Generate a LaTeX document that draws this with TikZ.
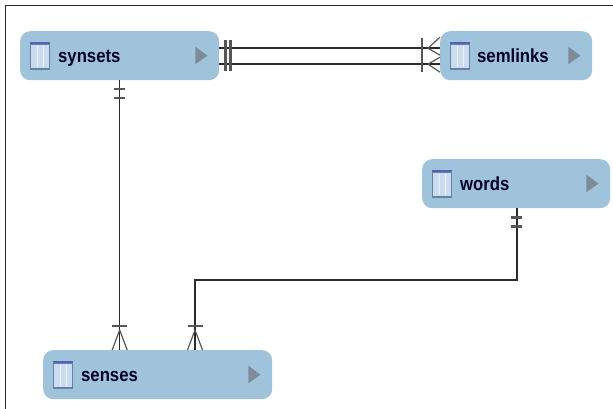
\documentclass[tikz,border=0pt]{standalone}
\usepackage{fontspec}
\setmainfont{Liberation Sans}
\usetikzlibrary{calc}
\definecolor{boxblue}{HTML}{A0C3DC}
\definecolor{iconfill}{HTML}{CCDCEE}
\definecolor{icontop}{HTML}{5560B8}
\definecolor{iconedge}{HTML}{5F84A8}
\definecolor{linecol}{HTML}{2A2A2A}
\definecolor{arrowgray}{HTML}{7E8C98}
\tikzset{
  tablebox/.style={fill=boxblue, rounded corners=10pt, inner sep=0pt, minimum height=49pt},
  tablelabel/.style={font=\fontsize{19}{22}\selectfont\bfseries, text=black!85!blue, inner sep=0pt, anchor=base west, xscale=0.88},
  link/.style={draw=linecol, line width=1.6pt},
  tick/.style={draw=linecol!80, line width=2.2pt},
  foot/.style={draw=linecol!80, line width=1.2pt},
}
\newcommand{\tablenode}[6]{% name, x0, x1, ytop, label, label inset
  \node[tablebox, minimum width=#3pt-#2pt, anchor=north west] (#1) at (#2,#4) {};
  \fill[iconedge] ($(#1.west)+(10,-14)$) rectangle ($(#1.west)+(30,14)$);
  \fill[iconfill] ($(#1.west)+(11,-11)$) rectangle ($(#1.west)+(29,12)$);
  \fill[icontop] ($(#1.west)+(10,-14)$) rectangle ($(#1.west)+(30,-12)$);
  \draw[white!60!iconfill, line width=0.5pt] ($(#1.west)+(17,-10)$) -- ($(#1.west)+(17,11)$) ($(#1.west)+(23,-10)$) -- ($(#1.west)+(23,11)$);
  \node[tablelabel] (#1-label) at ($(#1.west)+(#6,7)$) {#5};
  \fill[arrowgray] ($(#1.east)+(-24,-9)$) -- ($(#1.east)+(-12,0)$) -- ($(#1.east)+(-24,8.5)$) -- cycle;
}
\begin{document}
\begin{tikzpicture}[x=1pt,y=-1pt]
\useasboundingbox (0,0) rectangle (613,409);
\fill[white] (0,0) rectangle (613,409);
\draw[linecol, line width=1.5pt] (5.5,409) -- (5.5,5.5) -- (613,5.5);
\tablenode{synsets}{20}{219}{31}{synsets}{38}
\tablenode{semlinks}{440}{592}{31}{semlinks}{37}
\tablenode{words}{422}{610}{159}{words}{38}
\tablenode{senses}{43}{272}{350}{senses}{38}
% attachment points
\coordinate (sa) at ($(synsets.east)+(0,-7.5)$);
\coordinate (sb) at ($(synsets.east)+(0,8.5)$);
\coordinate (la) at (semlinks.west |- sa);
\coordinate (lb) at (semlinks.west |- sb);
\coordinate (wd) at ($(words.south)+(1,0)$);
\coordinate (sn1) at (synsets.south |- senses.north);
\coordinate (sn2) at ($(senses.north west)+(152,0)$);
% connectors
\draw[link] (sa) -- (la);
\draw[link] (sb) -- (lb);
\draw[link, line width=1.2pt] (synsets.south) -- (sn1);
\draw[link] (wd) |- ($(sn2)+(0,-70)$) -- (sn2);
% one-and-only-one marks at synsets east
\draw[tick] ($(synsets.east)+(6,-16)$) -- ($(synsets.east)+(6,15.5)$);
\draw[tick] ($(synsets.east)+(11,-16)$) -- ($(synsets.east)+(11,15.5)$);
% semlinks crow feet
\draw[tick] ($(la)+(-18,-10)$) -- ($(lb)+(-18,8)$);
\draw[foot] ($(la)+(-12,0)$) -- ($(la)+(0,-11)$) ($(la)+(-12,0)$) -- ($(la)+(0,7)$);
\draw[foot] ($(lb)+(-12,0)$) -- ($(lb)+(0,-7)$) ($(lb)+(-12,0)$) -- ($(lb)+(0,8)$);
% synsets south
\draw[tick] ($(synsets.south)+(-5.5,9)$) -- ($(synsets.south)+(5.5,9)$);
\draw[tick] ($(synsets.south)+(-5.5,18)$) -- ($(synsets.south)+(5.5,18)$);
% words south
\draw[tick] ($(wd)+(-6,9)$) -- ($(wd)+(5,9)$);
\draw[tick] ($(wd)+(-6,18)$) -- ($(wd)+(5,18)$);
% senses crow feet
\draw[tick] ($(sn1)+(-7.5,-24)$) -- ($(sn1)+(7.5,-24)$);
\draw[foot] ($(sn1)+(0,-20)$) -- ($(sn1)+(-7.5,0)$) ($(sn1)+(0,-20)$) -- ($(sn1)+(7.5,0)$);
\draw[tick] ($(sn2)+(-7.5,-24)$) -- ($(sn2)+(7.5,-24)$);
\draw[foot] ($(sn2)+(0,-20)$) -- ($(sn2)+(-7.5,0)$) ($(sn2)+(0,-20)$) -- ($(sn2)+(7.5,0)$);
\end{tikzpicture}
\end{document}
